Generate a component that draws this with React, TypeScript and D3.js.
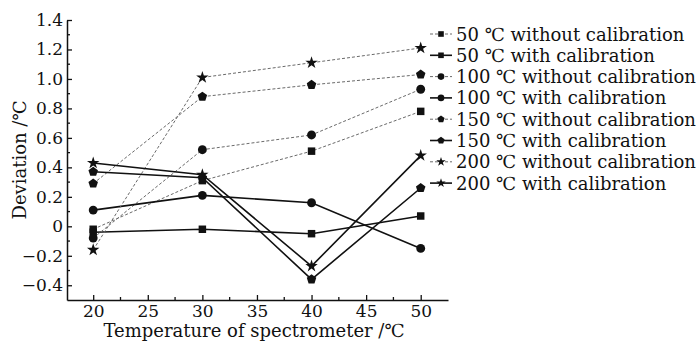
import { useRef, useEffect } from "react";
import { select, scaleLinear, axisBottom, axisLeft, line, symbol, symbolSquare, symbolCircle, symbolStar, range, format } from "d3";

const temps = [20, 30, 40, 50];
const dev50Without = [-0.02, 0.31, 0.51, 0.78];
const dev50With = [-0.04, -0.02, -0.05, 0.07];
const dev100Without = [-0.08, 0.52, 0.62, 0.93];
const dev100With = [0.11, 0.21, 0.16, -0.15];
const dev150Without = [0.29, 0.88, 0.96, 1.03];
const dev150With = [0.37, 0.33, -0.36, 0.26];
const dev200Without = [-0.16, 1.01, 1.11, 1.21];
const dev200With = [0.43, 0.35, -0.27, 0.48];

const seriesNames = [
    "50 ℃ without calibration",
    "50 ℃ with calibration",
    "100 ℃ without calibration",
    "100 ℃ with calibration",
    "150 ℃ without calibration",
    "150 ℃ with calibration",
    "200 ℃ without calibration",
    "200 ℃ with calibration",
];
const seriesValues = [dev50Without, dev50With, dev100Without, dev100With, dev150Without, dev150With, dev200Without, dev200With];
const seriesMarkers = ["square", "square", "circle", "circle", "pentagon", "pentagon", "star", "star"];

const xTicks = [20, 25, 30, 35, 40, 45, 50];
const yTicks = [-0.4, -0.2, 0, 0.2, 0.4, 0.6, 0.8, 1.0, 1.2, 1.4];

const W = 697;
const H = 344;
const FONT = "'DejaVu Serif', serif";

const pentagonPath = (r: number) => {
    const pts = range(5).map((i) => {
        const a = -Math.PI / 2 + (i * 2 * Math.PI) / 5;
        return [r * Math.cos(a), r * Math.sin(a)];
    });
    return "M" + pts.map((p) => p.join(",")).join("L") + "Z";
};

const markerPath = (kind: string) => {
    if (kind === "square") return symbol(symbolSquare, 56)() ?? "";
    if (kind === "circle") return symbol(symbolCircle, 62)() ?? "";
    if (kind === "star") return symbol(symbolStar, 48)() ?? "";
    return pentagonPath(5);
};

export default function App() {
    const xAxisRef = useRef<SVGGElement>(null);
    const yAxisRef = useRef<SVGGElement>(null);

    const left = 67;
    const right = 448;
    const top = 20;
    const bottom = 300;

    const x = scaleLinear().domain([17.6, 52.5]).range([left, right]);
    const y = scaleLinear().domain([-0.5, 1.4]).range([bottom, top]);

    useEffect(() => {
        const xa = select(xAxisRef.current);
        // major ticks point inward
        xa.call(axisBottom(x).tickValues(xTicks).tickSize(-5).tickSizeOuter(0).tickPadding(5).tickFormat(format("d")));
        xa.selectAll(".minor")
            .data(range(22.5, 52.5, 5))
            .join("line")
            .attr("class", "minor")
            .attr("x1", (d) => x(d))
            .attr("x2", (d) => x(d))
            .attr("y1", 0)
            .attr("y2", -3)
            .attr("stroke", "#111")
            .attr("stroke-width", 1.3);
        xa.attr("font-family", FONT).attr("font-size", 17);
        xa.select(".domain").attr("stroke-width", 1.5).attr("stroke", "#111");
        xa.selectAll(".tick line").attr("stroke-width", 1.3).attr("stroke", "#111");
        xa.selectAll("text").attr("fill", "#111");

        const ya = select(yAxisRef.current);
        ya.call(
            axisLeft(y)
                .tickValues(yTicks)
                .tickSize(-5)
                .tickSizeOuter(0)
                .tickPadding(4)
                .tickFormat((d) => (d === 0 ? "0" : format(".1f")(d as number)))
        );
        ya.selectAll(".minor")
            .data(range(-0.3, 1.4, 0.2))
            .join("line")
            .attr("class", "minor")
            .attr("x1", 0)
            .attr("x2", 3)
            .attr("y1", (d) => y(d))
            .attr("y2", (d) => y(d))
            .attr("stroke", "#111")
            .attr("stroke-width", 1.3);
        ya.attr("font-family", FONT).attr("font-size", 17);
        ya.select(".domain").attr("stroke-width", 1.5).attr("stroke", "#111");
        ya.selectAll(".tick line").attr("stroke-width", 1.3).attr("stroke", "#111");
        ya.selectAll("text").attr("fill", "#111");
    }, []);

    const lineGen = line<number>()
        .x((_, i) => x(temps[i]))
        .y((d) => y(d));

    const legendX = 430;
    const legendY0 = 34;
    const legendStep = 21.3;

    return (
        <svg width={W} height={H} style={{ position: "absolute", left: 0, top: 0, background: "#fff" }}>
            <g ref={xAxisRef} transform={`translate(0,${bottom})`} />
            <g ref={yAxisRef} transform={`translate(${left},0)`} />

            {seriesValues.map((vals, si) => {
                const dashed = si % 2 === 0;
                return (
                    <g key={si}>
                        <path
                            d={lineGen(vals) ?? ""}
                            fill="none"
                            stroke={dashed ? "#6a6a6a" : "#111"}
                            strokeWidth={dashed ? 1 : 1.6}
                            strokeDasharray={dashed ? "3,2" : undefined}
                        />
                        {vals.map((v, i) => (
                            <path
                                key={i}
                                d={markerPath(seriesMarkers[si])}
                                transform={`translate(${x(temps[i])},${y(v)})`}
                                fill="#111"
                            />
                        ))}
                    </g>
                );
            })}

            {seriesNames.map((name, si) => {
                const dashed = si % 2 === 0;
                const ly = legendY0 + si * legendStep;
                return (
                    <g key={name} transform={`translate(${legendX},${ly})`}>
                        <line
                            x1={0}
                            x2={22}
                            y1={0}
                            y2={0}
                            stroke={dashed ? "#6a6a6a" : "#111"}
                            strokeWidth={dashed ? 1 : 1.6}
                            strokeDasharray={dashed ? "3,2" : undefined}
                        />
                        <path d={markerPath(seriesMarkers[si])} transform="translate(11,0) scale(0.75)" fill="#111" />
                        <text x={26} y={6.5} fontFamily={FONT} fontSize={18} fill="#111">
                            {name}
                        </text>
                    </g>
                );
            })}

            <text
                transform={`translate(26,${(top + bottom) / 2}) rotate(-90)`}
                textAnchor="middle"
                fontFamily={FONT}
                fontSize={18}
                fill="#111"
            >
                Deviation /℃
            </text>
            <text x={254} y={337} textAnchor="middle" fontFamily={FONT} fontSize={18} fill="#111">
                Temperature of spectrometer /℃
            </text>
        </svg>
    );
}
